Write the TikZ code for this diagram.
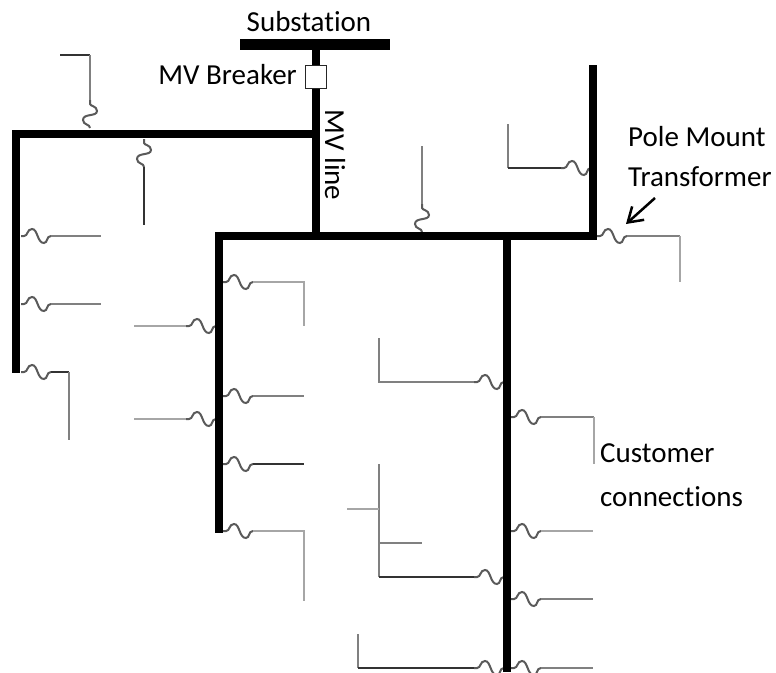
\documentclass[tikz,border=0pt]{standalone}
\usepackage{fontspec}
\setmainfont[Ligatures=NoCommon]{Carlito}
\usetikzlibrary{arrows.meta}
\definecolor{lineGrey}{HTML}{808080}
\definecolor{lineDark}{HTML}{333333}
\definecolor{lineLight}{HTML}{A6A6A6}
\tikzset{
  bus/.style={line width=8pt,black,line cap=butt,line join=miter},
  gline/.style={line width=2.2pt,lineGrey,line join=miter},
  dline/.style={line width=2.2pt,lineDark,line join=miter},
  lline/.style={line width=2.6pt,lineLight,line join=miter},
  wig/.style={line width=2pt,lineGrey!70!black},
  lbl/.style={font=\fontsize{29}{32}\selectfont,inner sep=0pt,text=black},
  wigh/.pic={\draw[wig] (0,0) -- (3,0) .. controls (7,0) and (6,-7) .. (11,-7) .. controls (17,-7) and (16,7) .. (23,7) .. controls (27,7) and (25,0) .. (30,0);},
  wigv/.pic={\draw[wig] (0,0) -- (0,4) .. controls (0,6) and (7,6) .. (7,11) .. controls (7,17) and (-7,13) .. (-7,20) .. controls (-7,25) and (0,24) .. (0,28);}
}
\begin{document}
\begin{tikzpicture}[x=1pt,y=-1pt]
\clip (0,0) rectangle (776,672);
\fill[white] (0,0) rectangle (776,672);
% branches
\draw[dline] (60,55) -- (90,55);
\draw[gline] (90,55) -- (90,100);
\pic at (90,100) {wigv};
\pic at (144,139) {wigv};
\draw[dline] (144,167) -- (144,225);
\pic at (21,236) {wigh};
\draw[gline] (51,236) -- (101,236);
\pic at (21,304) {wigh};
\draw[gline] (51,304) -- (101,304);
\pic at (21,372) {wigh};
\draw[dline] (51,372) -- (69,372);
\draw[gline] (69,372) -- (69,440);
\pic at (223,282) {wigh};
\draw[lline] (253,282) -- (304,282) -- (304,326);
\draw[lline] (134,326) -- (186,326);
\pic at (186,326) {wigh};
\pic at (223,396) {wigh};
\draw[gline] (253,396) -- (304,396);
\draw[lline] (134,419) -- (186,419);
\pic at (186,419) {wigh};
\pic at (223,464) {wigh};
\draw[dline] (253,464) -- (304,464);
\pic at (223,531) {wigh};
\draw[lline] (253,531) -- (304,531) -- (304,601);
\draw[gline] (379,338) -- (379,382) -- (474,382);
\pic at (474,382) {wigh};
\pic at (511,417) {wigh};
\draw[gline] (541,417) -- (594,417);
\draw[lline] (594,417) -- (594,464);
\draw[gline] (379,464) -- (379,577);
\draw[lline] (347,509) -- (379,509);
\draw[gline] (379,543) -- (422,543);
\draw[dline] (379,577) -- (475,577);
\pic at (474,577) {wigh};
\pic at (511,531) {wigh};
\draw[lline] (541,531) -- (593,531);
\pic at (511,599) {wigh};
\draw[gline] (541,599) -- (593,599);
\draw[gline] (358,634) -- (358,668);
\draw[dline] (358,668) -- (476,668);
\pic at (474,668) {wigh};
\pic at (511,668) {wigh};
\draw[gline] (541,668) -- (593,668);
\draw[gline] (508,124) -- (508,168);
\draw[dline] (508,168) -- (561,168);
\pic at (561,168) {wigh};
\pic at (597,236) {wigh};
\draw[gline] (627,236) -- (680,236);
\draw[lline] (680,236) -- (680,282);
\draw[gline] (422,146) -- (422,204);
\pic at (422,204) {wigv};
% buses
\draw[line width=11pt,black] (240,44) -- (390,44);
\draw[bus] (12,134) -- (316,134);
\draw[bus] (16,130) -- (16,373);
\draw[bus] (316,44) -- (316,237);
\draw[bus] (215,236) -- (597,236);
\draw[bus] (219,232) -- (219,533);
\draw[bus] (593,65) -- (593,240);
\draw[bus] (507,236) -- (507,672);
% breaker
\node[draw=black!85,fill=white,line width=1.8pt,minimum width=21pt,minimum height=23pt,inner sep=0pt] (brk) at (316,77) {};
% labels
\node[lbl] (sub) at (309,22) {Substation};
\node[lbl,anchor=east] (mvb) at (297,75) {MV Breaker};
\node[lbl,rotate=-90] (mvl) at (335,155) {MV line};
\node[lbl,anchor=west] (pm) at (628,137) {Pole Mount};
\node[lbl,anchor=west] (tr) at (628,177) {Transformer};
\node[lbl,anchor=west] (cu) at (600,453) {Customer};
\node[lbl,anchor=west] (co) at (600,497) {connections};
\coordinate (arS) at (655,198);
\coordinate (arE) at (626,224);
\draw[line width=2.5pt,-{Straight Barb[length=14pt,width=18pt]}] (arS) -- (arE);
\end{tikzpicture}
\end{document}
